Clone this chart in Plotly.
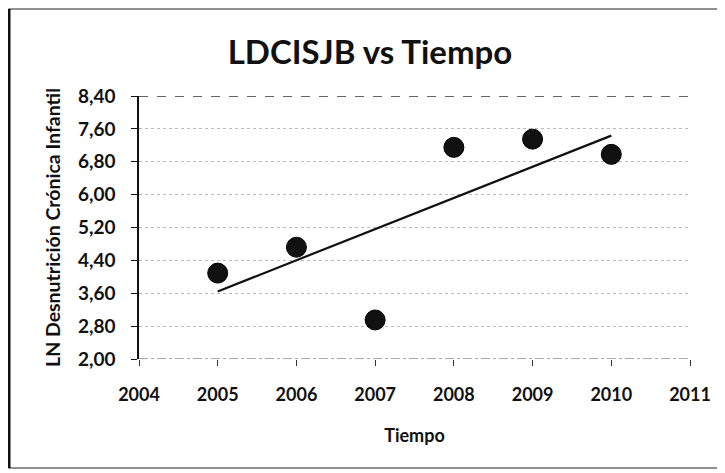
import numpy as np
import plotly.graph_objects as go

years = [2005, 2006, 2007, 2008, 2009, 2010]
ln_dci = [4.09, 4.72, 2.95, 7.15, 7.35, 6.98]
y_ticks = [2.0, 2.8, 3.6, 4.4, 5.2, 6.0, 6.8, 7.6, 8.4]
y_tick_labels = ["2,00", "2,80", "3,60", "4,40", "5,20", "6,00", "6,80", "7,60", "8,40"]
x_ticks = [2004, 2005, 2006, 2007, 2008, 2009, 2010, 2011]

slope, intercept = np.polyfit(years, ln_dci, 1)
trend_x = [years[0], years[-1]]
trend_y = [slope * x + intercept for x in trend_x]

FONT = "Lato"
OFF = 8  # page body margin

fig = go.Figure()
fig.add_trace(go.Scatter(x=trend_x, y=trend_y, mode="lines",
                         line=dict(color="#111111", width=2.2),
                         showlegend=False, hoverinfo="skip"))
fig.add_trace(go.Scatter(x=years, y=ln_dci, mode="markers",
                         marker=dict(size=20, color="#111111",
                                     line=dict(color="#000000", width=1)),
                         showlegend=False))

W, H = 725, 473
L, R, T, B = 139 - OFF, W - (690 - OFF), 96 - OFF, H - (359 - OFF)
pw, ph = W - L - R, H - T - B

def px(xpage):
    return (xpage - OFF - L) / pw

def py(ypage):
    return (H - B - (ypage - OFF)) / ph

shapes = [
    dict(type="line", xref="x", yref="y", x0=2004, x1=2011, y0=8.4, y1=8.4,
         line=dict(color="#333333", width=1.3, dash="dash")),
    dict(type="line", xref="x", yref="y", x0=2004, x1=2011, y0=2.0, y1=2.0,
         line=dict(color="#555555", width=1.2, dash="dashdot")),
    dict(type="rect", xref="paper", yref="paper",
         x0=px(9), x1=px(720), y0=py(468), y1=py(9),
         line=dict(color="#222222", width=1.2)),
    dict(type="line", xref="paper", yref="paper",
         x0=px(9), x1=px(9), y0=py(468), y1=py(9),
         line=dict(color="#111111", width=3)),
]

fig.update_layout(
    width=W, height=H,
    margin=dict(l=L, r=R, t=T, b=B),
    paper_bgcolor="white", plot_bgcolor="white",
    title=dict(text="LDCISJB vs Tiempo", x=(370 - OFF) / W, xanchor="center",
               y=1 - (52 - OFF) / H, yanchor="middle",
               font=dict(family=FONT, size=33, color="#111111", weight="bold")),
    shapes=shapes,
    xaxis=dict(range=[2004, 2011], tickmode="array", tickvals=x_ticks,
               showgrid=False, zeroline=False, showline=False,
               ticks="outside", ticklen=6, tickcolor="#333333",
               ticklabelstandoff=13,
               tickfont=dict(family=FONT, size=18, color="#111111", weight="bold"),
               title=dict(text="Tiempo", standoff=25,
                          font=dict(family=FONT, size=18, color="#111111", weight="bold"))),
    yaxis=dict(range=[2.0, 8.4], tickmode="array", tickvals=y_ticks,
               ticktext=y_tick_labels,
               showgrid=True, gridcolor="#bbbbbb", griddash="dot", gridwidth=1,
               zeroline=False, showline=True, linecolor="#111111", linewidth=1.5,
               ticks="outside", ticklen=6, tickcolor="#111111",
               ticklabelstandoff=12,
               tickfont=dict(family=FONT, size=19, color="#111111", weight="bold"),
               title=dict(text="LN Desnutrición Crónica Infantil", standoff=12,
                          font=dict(family=FONT, size=19.5, color="#111111", weight="bold"))),
)

fig.write_html("out.html")
